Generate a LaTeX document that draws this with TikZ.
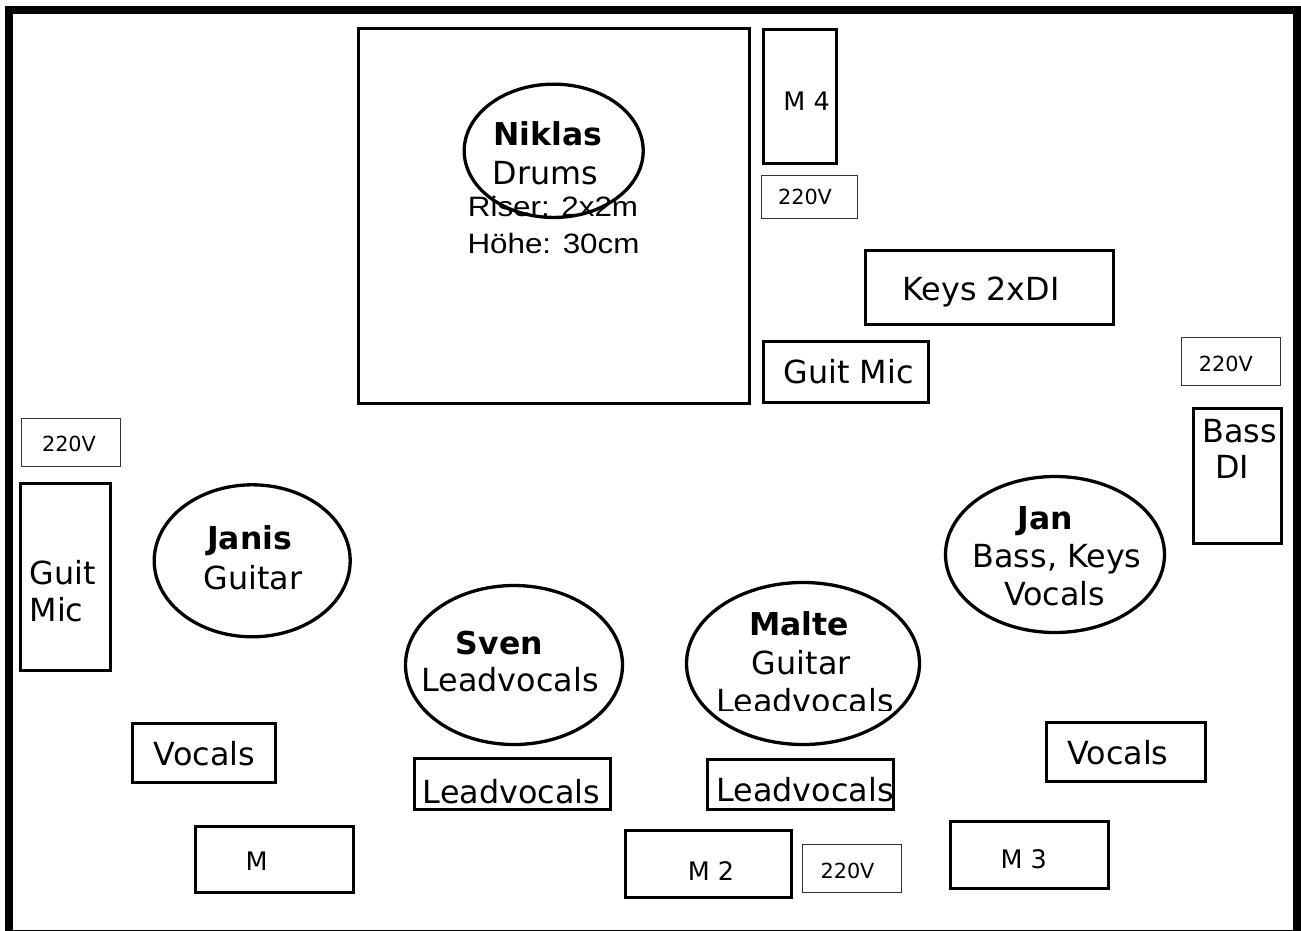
\documentclass[tikz,border=0pt]{standalone}
\usepackage{fontspec}
\usepackage{graphicx}
\setmainfont{DejaVu Sans}
\newfontfamily\arialfont{Liberation Sans}
\usetikzlibrary{shapes.geometric}
\tikzset{
  box/.style={draw=black, line width=3.6pt, rectangle, inner sep=0pt},
  plug/.style={draw=black!80, line width=1.3pt, rectangle, inner sep=0pt},
  person/.style={draw=black, line width=3.3pt, ellipse, inner sep=0pt},
  big/.style={anchor=base, inner sep=0pt, font=\fontsize{31.8}{38}\selectfont},
  bigb/.style={anchor=base, inner sep=0pt, font=\fontsize{31.5}{38}\selectfont\bfseries},
  mid/.style={anchor=base, inner sep=0pt, font=\fontsize{25.5}{30}\selectfont},
  small/.style={anchor=base, inner sep=0pt, font=\fontsize{20.8}{24}\selectfont},
  arial/.style={anchor=base, inner sep=0pt, font=\fontsize{28}{34}\arialfont},
}
\begin{document}
\begin{tikzpicture}[x=1pt, y=-1pt]
\useasboundingbox (0,0) rectangle (1301,931);
\fill[white] (0,0) rectangle (1301,931);
% outer frame
\draw[line width=8pt] (9,10) rectangle (1297,934);

% boxes
\node[box, minimum width=390.7pt, minimum height=374.7pt] (riser) at (554,216) {};
\node[box, minimum width=72.7pt, minimum height=133.7pt] (m4) at (800,96.5) {};
\node[plug, minimum width=96pt, minimum height=43pt] (p1) at (809.5,197) {};
\node[box, minimum width=247.7pt, minimum height=73.7pt] (keys) at (989.5,287.5) {};
\node[box, minimum width=164.7pt, minimum height=60.7pt] (gm1) at (846,372) {};
\node[plug, minimum width=99pt, minimum height=48pt] (p2) at (1231,361.5) {};
\node[box, minimum width=88.3pt, minimum height=135pt] (bassdi) at (1237.5,476) {};
\node[plug, minimum width=99pt, minimum height=48pt] (p3) at (71,442.5) {};
\node[box, minimum width=89.7pt, minimum height=186.7pt] (gm2) at (65.5,577) {};
\node[box, minimum width=142.7pt, minimum height=58.7pt] (voc1) at (204,753) {};
\node[box, minimum width=157.7pt, minimum height=65.7pt] (m1) at (274.5,859.5) {};
\node[box, minimum width=195.7pt, minimum height=50.7pt] (lv1) at (512.5,784) {};
\node[box, minimum width=185.7pt, minimum height=49.7pt] (lv2) at (800.5,784.5) {};
\node[box, minimum width=165.7pt, minimum height=66.7pt] (m2) at (708.5,864) {};
\node[plug, minimum width=99pt, minimum height=48pt] (p4) at (852,868.5) {};
\node[box, minimum width=158.7pt, minimum height=58.7pt] (voc2) at (1126,752) {};
\node[box, minimum width=157.7pt, minimum height=66.7pt] (m3) at (1029.5,855) {};

% persons
\node[person, minimum width=179pt, minimum height=133.3pt] (niklas) at (553.7,150.8) {};
\node[person, minimum width=196pt, minimum height=152pt] (janis) at (252.2,560.8) {};
\node[person, minimum width=217pt, minimum height=159pt] (sven) at (514,665) {};
\node[person, minimum width=233pt, minimum height=162pt] (malte) at (803,663.5) {};
\node[person, minimum width=219pt, minimum height=156pt] (jan) at (1055,554.5) {};

% texts
\node[bigb] (tnik1) at (548,146) {Niklas};
\node[big] (tnik2) at (545.5,184) {Drums};
\node[arial] (tris1) at (553,216.7) {\scalebox{1.12}[1]{Riser: 2x2m}};
\node[arial] (tris2) at (553.5,253) {\scalebox{1.12}[1]{Höhe: 30cm}};

\node[mid] (tm4) at (806.6,110.7) {M 4};
\node[small] (tp1) at (805,204) {220V};
\node[big] (tkeys) at (981,300.7) {Keys 2xDI};
\node[big] (tgm1) at (848.7,383.3) {Guit Mic};
\node[small] (tp2) at (1225.8,371.7) {220V};
\node[big] (tbass1) at (1239.5,442.7) {Bass};
\node[big] (tbass2) at (1232,478.3) {DI};
\node[small] (tp3) at (69,451.7) {220V};
\node[big, anchor=base west] (tgm2a) at (29.5,584.3) {Guit};
\node[big, anchor=base west] (tgm2b) at (29.5,621.7) {Mic};

\node[bigb] (tjanis1) at (249.5,549) {Janis};
\node[big] (tjanis2) at (253,589) {Guitar};
\node[bigb] (tsven1) at (499.3,654) {Sven};
\node[big] (tsven2) at (510,691.7) {Leadvocals};
\node[bigb] (tmalte1) at (799,635) {Malte};
\node[big] (tmalte2) at (801.3,674) {Guitar};
\begin{scope}
\clip (690,680) rectangle (920,710.5);
\node[big] (tmalte3) at (805,712.5) {Leadvocals};
\end{scope}
\node[bigb] (tjan1) at (1045,529) {Jan};
\node[big] (tjan2) at (1057,567.3) {Bass, Keys};
\node[big] (tjan3) at (1054.7,605.7) {Vocals};

\node[big] (tvoc1) at (204.5,765.7) {Vocals};
\node[mid] (tm1) at (256.7,870.7) {M};
\node[big] (tlv1) at (511.5,803) {Leadvocals};
\node[big] (tlv2) at (805,801.7) {Leadvocals};
\node[mid] (tm2) at (711,880) {M 2};
\node[small] (tp4) at (847.5,878.3) {220V};
\node[big] (tvoc2) at (1117.8,764) {Vocals};
\node[mid] (tm3) at (1023.7,868.3) {M 3};
\end{tikzpicture}
\end{document}
